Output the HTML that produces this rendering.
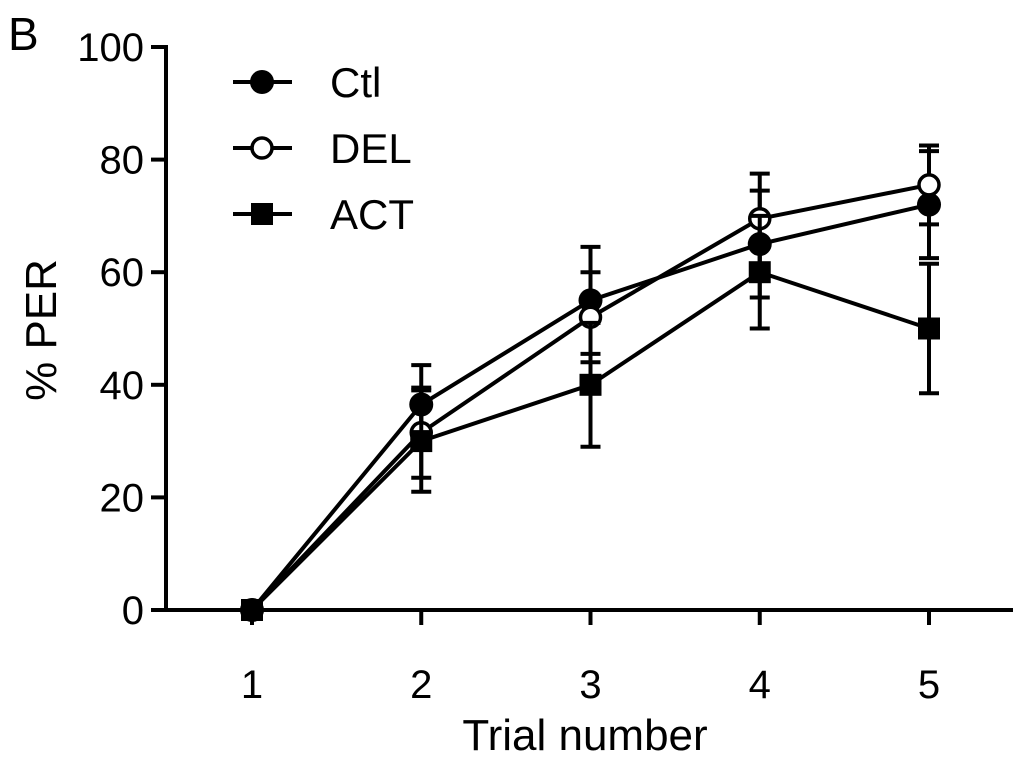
<!DOCTYPE html>
<html><head><meta charset="utf-8"><style>
body{margin:0;background:#fff}
svg text{font-family:"Liberation Sans",sans-serif;fill:#000}
</style></head><body>
<svg id="c" width="1024" height="760" xmlns="http://www.w3.org/2000/svg">
<text x="8" y="50" font-size="46">B</text>
<text transform="translate(56,330) rotate(-90)" text-anchor="middle" font-size="44">% PER</text>
<text x="585" y="750" text-anchor="middle" font-size="44">Trial number</text>
<g id="axes"></g><g id="series"></g><g id="legend"></g>
</svg>
<script>
const trials=[1,2,3,4,5];
const yTicks=[0,20,40,60,80,100];
const ctl=[0,36.5,55,65,72];
const ctlErr=[0,7,9.5,9.5,9.5];
const del=[0,31.5,52,69.5,75.5];
const delErr=[0,8,8,8,7];
const act=[0,30,40,60,50];
const actErr=[0,9,11,10,11.5];
const NS="http://www.w3.org/2000/svg";
const X=t=>252+(t-1)*169.25;
const Y=v=>610-v*5.63;
function mk(tag,at,p){const e=document.createElementNS(NS,tag);for(const k in at)e.setAttribute(k,at[k]);p.appendChild(e);return e;}
const axes=document.getElementById('axes');
let e=mk('line',{x1:166,y1:Y(100)-2,x2:166,y2:Y(0)+2,stroke:'#000','stroke-width':4},axes);


e=mk('line',{x1:164,y1:Y(0),x2:1013,y2:Y(0),stroke:'#000','stroke-width':4},axes);


yTicks.forEach(v=>{
 e=mk('line',{x1:151,y1:Y(v),x2:166,y2:Y(v),stroke:'#000','stroke-width':4},axes);
 
 
 e=mk('text',{x:144,y:Y(v)+14,'text-anchor':'end','font-size':40},axes);e.textContent=v;
 
 
});
trials.forEach(t=>{
 e=mk('line',{x1:X(t),y1:Y(0),x2:X(t),y2:Y(0)+15,stroke:'#000','stroke-width':4},axes);
 
 
 e=mk('text',{x:X(t),y:Y(0)+88,'text-anchor':'middle','font-size':40},axes);e.textContent=t;
 
 
});
const ser=document.getElementById('series');
function marker(kind,x,y,p){
 if(kind==='sq')return mk('rect',{x:x-11,y:y-11,width:22,height:22,fill:'#000'},p);
 return mk('circle',{cx:x,cy:y,r:kind==='open'?10:12,fill:kind==='open'?'#fff':'#000',stroke:'#000','stroke-width':kind==='open'?3.5:0},p);
}
const S=[['ctl',ctl,ctlErr,'fill'],['del',del,delErr,'open'],['act',act,actErr,'sq']];
S.forEach(([n,vals,err,k])=>{
 const g=mk('g',{},ser);
 
 
 vals.forEach((v,i)=>{if(err[i]>0){const x=X(trials[i]);
  e=mk('path',{d:`M${x},${Y(v+err[i])}V${Y(v-err[i])}M${x-10},${Y(v+err[i])}h20M${x-10},${Y(v-err[i])}h20`,stroke:'#000','stroke-width':4,fill:'none'},g);
  
  }});
 e=mk('polyline',{points:vals.map((v,i)=>X(trials[i])+','+Y(v)).join(' '),fill:'none',stroke:'#000','stroke-width':4},g);
 
 
 vals.forEach((v,i)=>{e=marker(k,X(trials[i]),Y(v),g);
  
  });
});
const leg=document.getElementById('legend');
[['Ctl','fill',82],['DEL','open',148],['ACT','sq',214]].forEach(([l,k,y])=>{
 const g=mk('g',{},leg);
 
 
 mk('line',{x1:233,y1:y,x2:292,y2:y,stroke:'#000','stroke-width':4},g);
 marker(k,262,y,g);
 const t=mk('text',{x:330,y:y+15,'font-size':42},g);t.textContent=l;
});
</script>
</body></html>
